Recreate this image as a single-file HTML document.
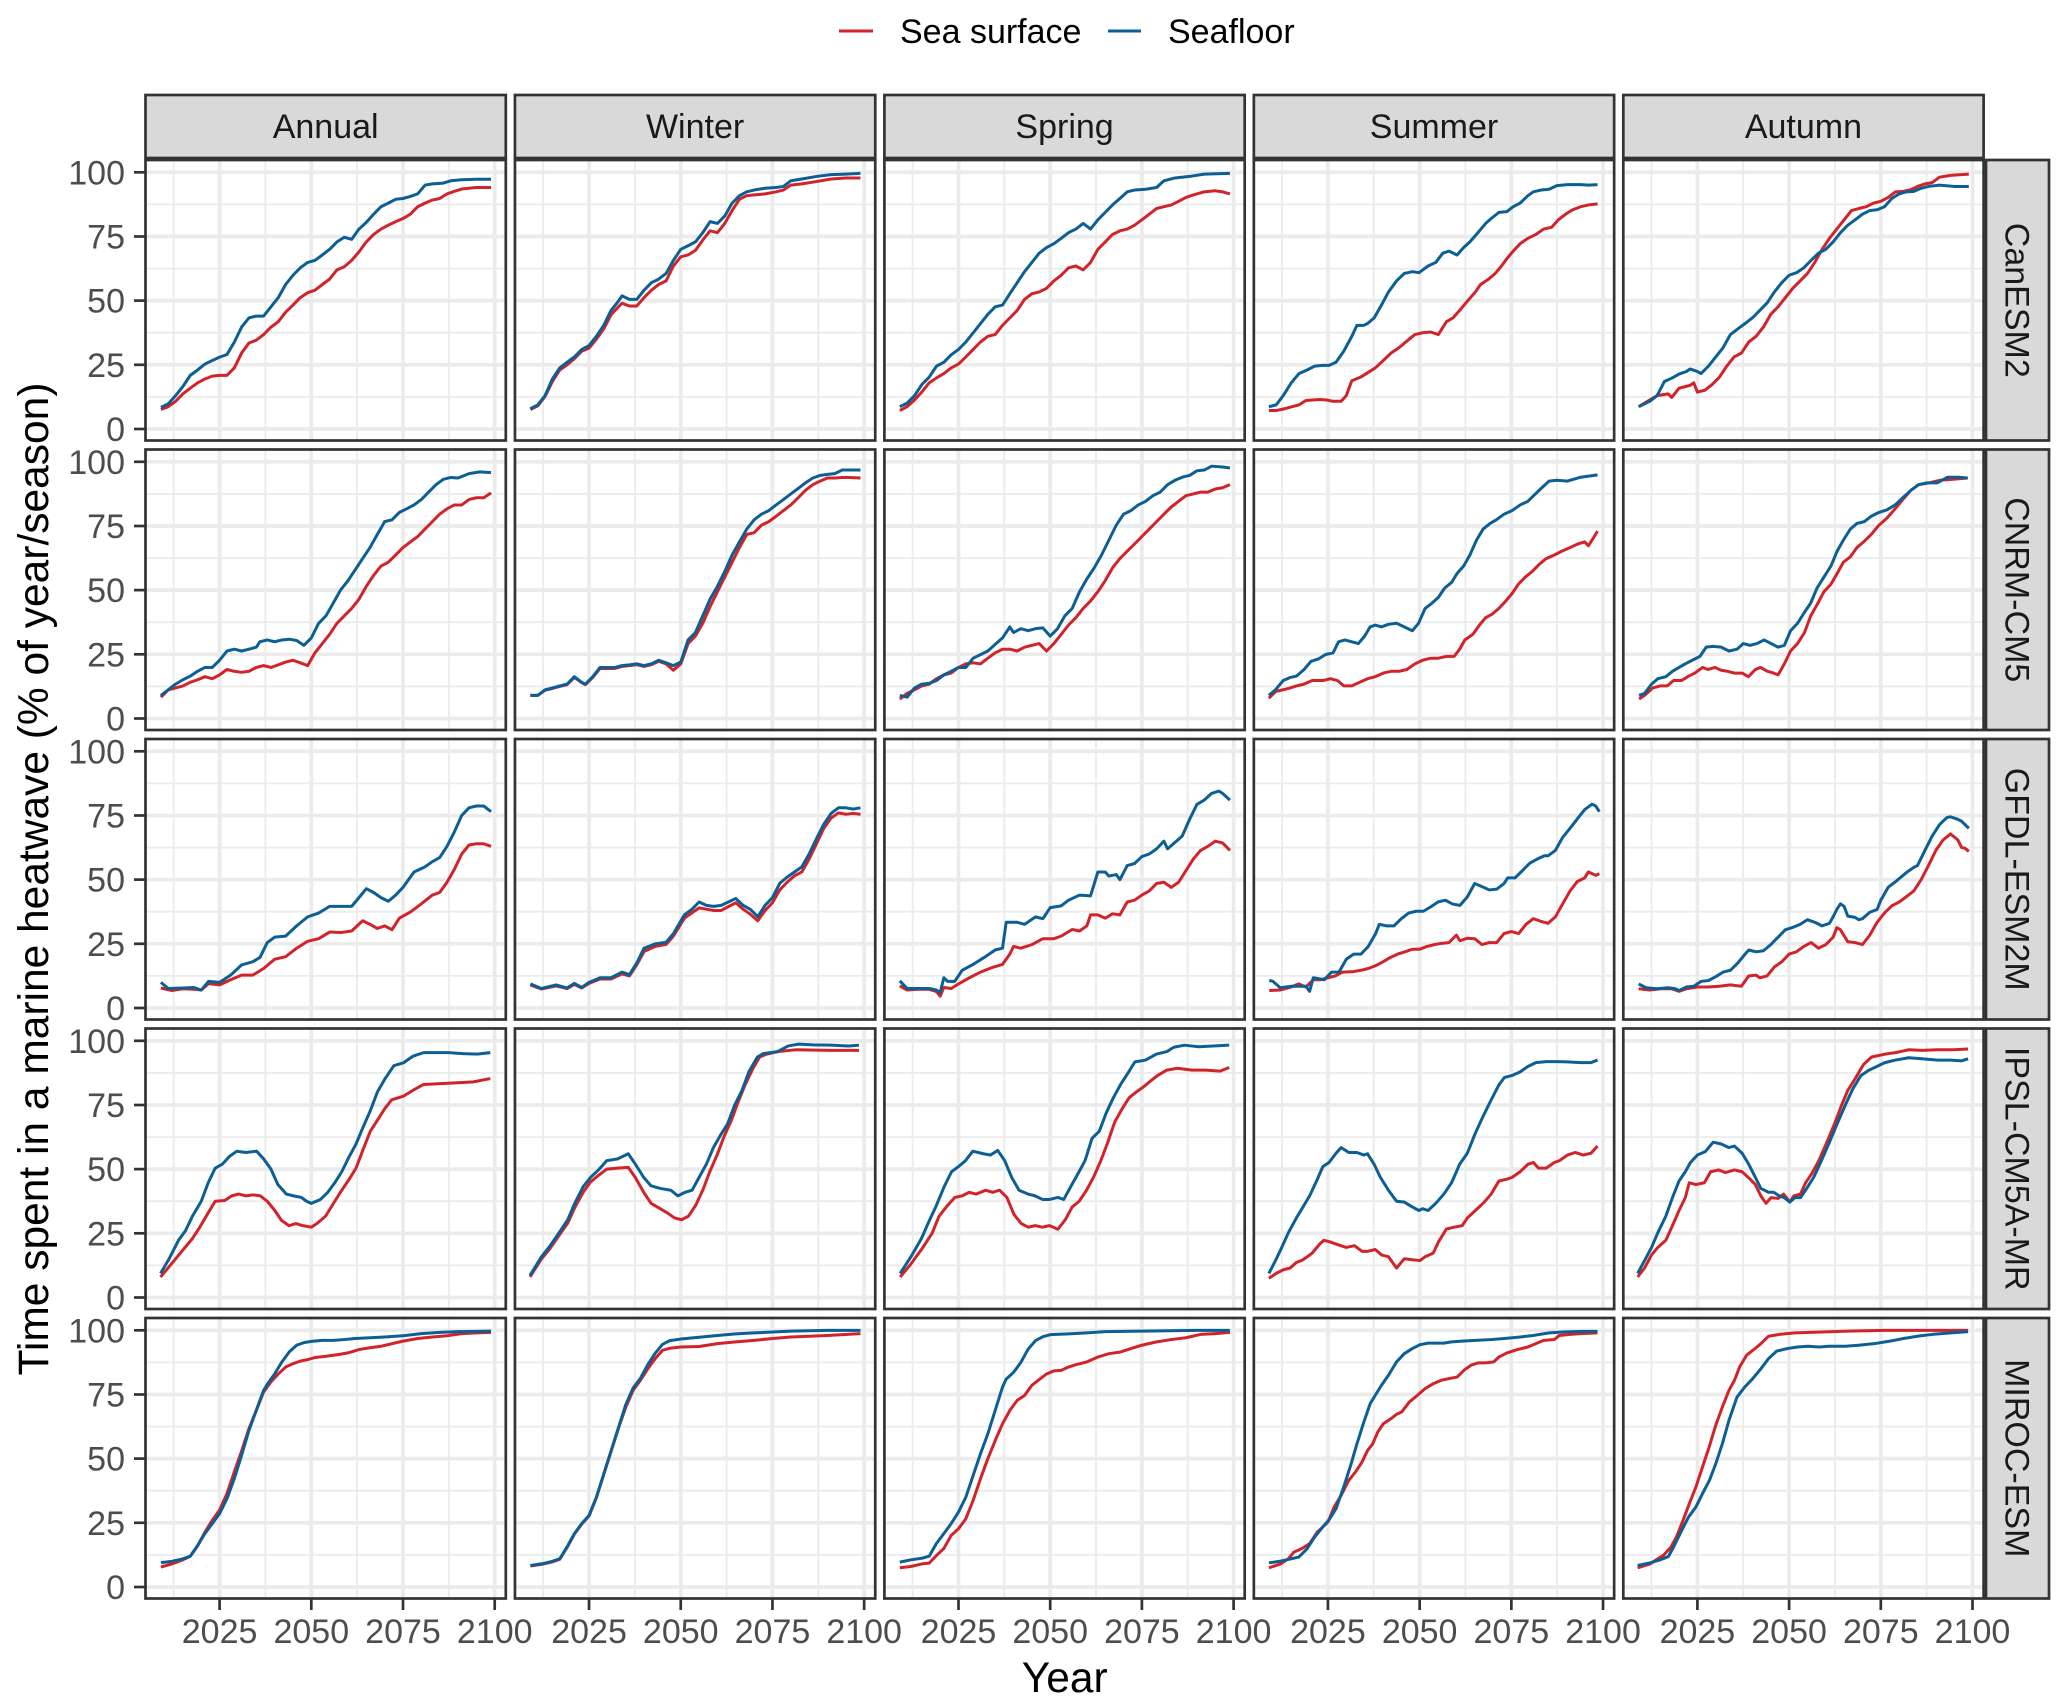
<!DOCTYPE html>
<html><head><meta charset="utf-8"><style>
html,body{margin:0;padding:0;background:#fff}
svg{display:block;font-family:"Liberation Sans",Arial,sans-serif}
polyline{fill:none;stroke-width:3;vector-effect:non-scaling-stroke;stroke-linejoin:round;stroke-linecap:butt}
.r{stroke:#d1232a}.b{stroke:#0b5f94}
.gM{stroke:#ebebeb;stroke-width:3.7}.gm{stroke:#ebebeb;stroke-width:1.8}
.bd{fill:none;stroke:#333;stroke-width:2.7}
.st{fill:#d9d9d9;stroke:#333;stroke-width:2.7}
.sx{font-size:34px;fill:#1a1a1a;text-anchor:middle}
.ty{font-size:34px;fill:#4d4d4d;text-anchor:end}
.tx{font-size:34px;fill:#4d4d4d;text-anchor:middle}
.tk{stroke:#333;stroke-width:2.7}
</style></head><body>
<svg width="2067" height="1708" viewBox="0 0 2067 1708" xmlns="http://www.w3.org/2000/svg">
<defs>
<g id="grid">
<rect x="0" y="0" width="360.3" height="280.5" fill="#fff"/>
<line class="gm" x1="0" x2="360.3" y1="44.4" y2="44.4"/><line class="gm" x1="0" x2="360.3" y1="108.6" y2="108.6"/><line class="gm" x1="0" x2="360.3" y1="172.7" y2="172.7"/><line class="gm" x1="0" x2="360.3" y1="236.9" y2="236.9"/>
<line class="gm" y1="0" y2="280.5" x1="28.2" x2="28.2"/><line class="gm" y1="0" y2="280.5" x1="119.9" x2="119.9"/><line class="gm" y1="0" y2="280.5" x1="211.6" x2="211.6"/><line class="gm" y1="0" y2="280.5" x1="303.3" x2="303.3"/>
<line class="gM" x1="0" x2="360.3" y1="12.3" y2="12.3"/><line class="gM" x1="0" x2="360.3" y1="76.5" y2="76.5"/><line class="gM" x1="0" x2="360.3" y1="140.6" y2="140.6"/><line class="gM" x1="0" x2="360.3" y1="204.8" y2="204.8"/><line class="gM" x1="0" x2="360.3" y1="269" y2="269"/>
<line class="gM" y1="0" y2="280.5" x1="74.1" x2="74.1"/><line class="gM" y1="0" y2="280.5" x1="165.8" x2="165.8"/><line class="gM" y1="0" y2="280.5" x1="257.5" x2="257.5"/><line class="gM" y1="0" y2="280.5" x1="349.2" x2="349.2"/>
</g>
<g id="yt">
<line class="tk" x1="134" x2="145.5" y1="12.3" y2="12.3"/><line class="tk" x1="134" x2="145.5" y1="76.5" y2="76.5"/><line class="tk" x1="134" x2="145.5" y1="140.6" y2="140.6"/><line class="tk" x1="134" x2="145.5" y1="204.8" y2="204.8"/><line class="tk" x1="134" x2="145.5" y1="269" y2="269"/>
</g>
<g id="xt">
<line class="tk" x1="74.1" x2="74.1" y1="1598.5" y2="1610"/><line class="tk" x1="165.8" x2="165.8" y1="1598.5" y2="1610"/><line class="tk" x1="257.5" x2="257.5" y1="1598.5" y2="1610"/><line class="tk" x1="349.2" x2="349.2" y1="1598.5" y2="1610"/>
</g>
</defs>

<!-- Legend -->
<line x1="839" x2="873" y1="31" y2="31" stroke="#d1232a" stroke-width="3"/>
<text x="900" y="43" font-size="34" fill="#000">Sea surface</text>
<line x1="1108" x2="1141" y1="31" y2="31" stroke="#0b5f94" stroke-width="3"/>
<text x="1168" y="43" font-size="34" fill="#000">Seafloor</text>

<!-- Top strips -->
<rect class="st" x="145.5" y="95" width="360.3" height="63"/><text class="sx" x="325.65" y="138">Annual</text>
<rect class="st" x="514.95" y="95" width="360.3" height="63"/><text class="sx" x="695.1" y="138">Winter</text>
<rect class="st" x="884.4" y="95" width="360.3" height="63"/><text class="sx" x="1064.55" y="138">Spring</text>
<rect class="st" x="1253.85" y="95" width="360.3" height="63"/><text class="sx" x="1434" y="138">Summer</text>
<rect class="st" x="1623.3" y="95" width="360.3" height="63"/><text class="sx" x="1803.45" y="138">Autumn</text>

<!-- Right strips -->
<rect class="st" x="1986" y="160" width="63" height="280.5"/><text class="sx" transform="translate(2005.5,300.25) rotate(90)">CanESM2</text>
<rect class="st" x="1986" y="449.5" width="63" height="280.5"/><text class="sx" transform="translate(2005.5,589.75) rotate(90)">CNRM-CM5</text>
<rect class="st" x="1986" y="739" width="63" height="280.5"/><text class="sx" transform="translate(2005.5,879.25) rotate(90)">GFDL-ESM2M</text>
<rect class="st" x="1986" y="1028.5" width="63" height="280.5"/><text class="sx" transform="translate(2005.5,1168.75) rotate(90)">IPSL-CM5A-MR</text>
<rect class="st" x="1986" y="1318" width="63" height="280.5"/><text class="sx" transform="translate(2005.5,1458.25) rotate(90)">MIROC-ESM</text>

<!-- Y ticks & labels -->
<g transform="translate(0,160)"><use href="#yt"/><text class="ty" x="125" y="24.3">100</text><text class="ty" x="125" y="88.5">75</text><text class="ty" x="125" y="152.6">50</text><text class="ty" x="125" y="216.8">25</text><text class="ty" x="125" y="281">0</text></g>
<g transform="translate(0,449.5)"><use href="#yt"/><text class="ty" x="125" y="24.3">100</text><text class="ty" x="125" y="88.5">75</text><text class="ty" x="125" y="152.6">50</text><text class="ty" x="125" y="216.8">25</text><text class="ty" x="125" y="281">0</text></g>
<g transform="translate(0,739)"><use href="#yt"/><text class="ty" x="125" y="24.3">100</text><text class="ty" x="125" y="88.5">75</text><text class="ty" x="125" y="152.6">50</text><text class="ty" x="125" y="216.8">25</text><text class="ty" x="125" y="281">0</text></g>
<g transform="translate(0,1028.5)"><use href="#yt"/><text class="ty" x="125" y="24.3">100</text><text class="ty" x="125" y="88.5">75</text><text class="ty" x="125" y="152.6">50</text><text class="ty" x="125" y="216.8">25</text><text class="ty" x="125" y="281">0</text></g>
<g transform="translate(0,1318)"><use href="#yt"/><text class="ty" x="125" y="24.3">100</text><text class="ty" x="125" y="88.5">75</text><text class="ty" x="125" y="152.6">50</text><text class="ty" x="125" y="216.8">25</text><text class="ty" x="125" y="281">0</text></g>

<!-- X ticks & labels -->
<g transform="translate(145.5,0)"><use href="#xt"/><text class="tx" x="74.1" y="1643">2025</text><text class="tx" x="165.8" y="1643">2050</text><text class="tx" x="257.5" y="1643">2075</text><text class="tx" x="349.2" y="1643">2100</text></g>
<g transform="translate(514.95,0)"><use href="#xt"/><text class="tx" x="74.1" y="1643">2025</text><text class="tx" x="165.8" y="1643">2050</text><text class="tx" x="257.5" y="1643">2075</text><text class="tx" x="349.2" y="1643">2100</text></g>
<g transform="translate(884.4,0)"><use href="#xt"/><text class="tx" x="74.1" y="1643">2025</text><text class="tx" x="165.8" y="1643">2050</text><text class="tx" x="257.5" y="1643">2075</text><text class="tx" x="349.2" y="1643">2100</text></g>
<g transform="translate(1253.85,0)"><use href="#xt"/><text class="tx" x="74.1" y="1643">2025</text><text class="tx" x="165.8" y="1643">2050</text><text class="tx" x="257.5" y="1643">2075</text><text class="tx" x="349.2" y="1643">2100</text></g>
<g transform="translate(1623.3,0)"><use href="#xt"/><text class="tx" x="74.1" y="1643">2025</text><text class="tx" x="165.8" y="1643">2050</text><text class="tx" x="257.5" y="1643">2075</text><text class="tx" x="349.2" y="1643">2100</text></g>

<!-- Axis titles -->
<text x="1064.7" y="1692" font-size="42.5" fill="#000" text-anchor="middle">Year</text>
<text transform="translate(48,879) rotate(-90)" font-size="42.5" fill="#000" text-anchor="middle">Time spent in a marine heatwave (% of year/season)</text>

<!-- ===== Row 1: CanESM2 ===== -->
<g transform="translate(145.5,160)"><use href="#grid"/><g transform="scale(3.668,-2.567) translate(-2004.8,-104.8)">
<polyline class="r" points="2009,7.6 2011,8.7 2013,10.8 2015,13.7 2017,15.9 2019,18 2021,19.5 2023,20.6 2025,20.9 2027,20.9 2029,23.8 2031,29.6 2033,33.5 2035,34.6 2037,36.8 2039,39.7 2041,41.8 2043,45.5 2045,48.3 2047,51.2 2049,53.1 2051,54.1 2053,56.3 2055,58.4 2057,62 2059,63.2 2061,65.7 2063,69 2065,72.9 2067,75.8 2069,77.9 2071,79.4 2073,80.8 2075,82 2077,83.7 2079,86.6 2081,88 2083,89.2 2085,89.8 2087,91.6 2089,92.6 2091,93.5 2095,94.1 2099,94.1"/>
<polyline class="b" points="2009,8.4 2011,9.8 2013,13 2015,16.6 2017,20.9 2019,23 2021,25.3 2023,26.7 2025,28 2027,29 2029,33.8 2031,39.7 2033,43.3 2035,44 2037,44 2039,47.6 2041,51.2 2043,56.3 2045,59.9 2047,62.8 2049,64.9 2051,65.7 2053,67.8 2055,70 2057,72.9 2059,74.7 2061,73.9 2063,77.9 2065,80.5 2067,83.7 2069,86.6 2071,88 2073,89.5 2075,89.8 2077,90.6 2079,91.6 2081,95 2083,95.5 2086,95.8 2088,96.7 2091,97.1 2095,97.3 2099,97.3"/>
</g><rect class="bd" x="0" y="0" width="360.3" height="280.5"/></g>

<g transform="translate(514.95,160)"><use href="#grid"/><g transform="scale(3.668,-2.567) translate(-2004.8,-104.8)">
<polyline class="r" points="2009,7.6 2011,9 2013,12.7 2015,18.5 2017,23 2019,25 2021,27.4 2023,30.3 2025,31.5 2027,35 2029,39 2031,44.5 2033,47.6 2034,49 2036,47.9 2038,47.9 2040,51.2 2042,54.1 2044,56.3 2046,57.7 2048,63.5 2050,67.1 2052,67.8 2054,69.6 2056,73.6 2058,77.2 2060,76.5 2062,80.1 2064,85.1 2066,89.5 2068,90.9 2070,91.2 2073,91.6 2076,92.4 2078,93.1 2080,95 2083,95.5 2087,96.4 2091,97.4 2095,97.8 2099,97.8"/>
<polyline class="b" points="2009,7.9 2011,9.4 2013,13 2015,19.5 2017,23.8 2019,26 2021,28.1 2023,31 2025,32.5 2027,36.1 2029,40.4 2031,46.2 2033,49.8 2034,51.9 2036,50.5 2038,50.5 2040,54.1 2042,57 2044,58.4 2046,60.6 2048,65.7 2050,70 2052,71.4 2054,72.9 2056,76.5 2058,80.8 2060,80.1 2062,83 2064,88 2066,90.9 2068,92.4 2070,93.1 2073,93.8 2076,94.1 2078,94.5 2080,96.7 2083,97.4 2087,98.4 2091,99.1 2095,99.3 2099,99.6"/>
</g><rect class="bd" x="0" y="0" width="360.3" height="280.5"/></g>

<g transform="translate(884.4,160)"><use href="#grid"/><g transform="scale(3.668,-2.567) translate(-2004.8,-104.8)">
<polyline class="r" points="2009,7.2 2011,8.7 2013,11.3 2015,14.4 2017,18 2019,19.9 2021,21.6 2023,23.8 2025,25.3 2027,28.1 2029,31 2031,33.9 2033,36.1 2035,36.8 2037,40.4 2039,43.3 2041,46.2 2043,50.5 2045,52.7 2047,53.4 2049,54.8 2051,57.7 2053,59.9 2055,62.8 2057,63.5 2059,62 2061,64.9 2063,70 2065,72.9 2067,75.8 2069,77.2 2071,77.9 2073,79.4 2075,81.5 2077,83.7 2079,85.9 2081,86.6 2083,87.3 2085,88.7 2087,90.2 2089,91.2 2092,92.4 2095,92.8 2097,92.4 2099,91.6"/>
<polyline class="b" points="2009,8.7 2011,10.1 2013,13 2015,17.3 2017,20.2 2019,24.5 2021,26 2023,28.9 2025,31 2027,33.9 2029,37.5 2031,41.1 2033,44.7 2035,47.6 2037,48.3 2039,52.7 2041,57 2043,61.3 2045,64.9 2047,68.5 2049,70.7 2051,72.2 2053,74.3 2055,76.5 2057,77.9 2059,80.1 2061,77.9 2063,81.5 2065,84.4 2067,87.3 2069,89.8 2071,92.4 2073,93.1 2076,93.4 2079,94.1 2081,96.7 2084,97.8 2088,98.4 2092,99.3 2099,99.6"/>
</g><rect class="bd" x="0" y="0" width="360.3" height="280.5"/></g>

<g transform="translate(1253.85,160)"><use href="#grid"/><g transform="scale(3.668,-2.567) translate(-2004.8,-104.8)">
<polyline class="r" points="2008.9,7.2 2010.9,7.2 2013.2,7.9 2015.2,8.7 2017.1,9.4 2019,11.1 2020.7,11.3 2022.8,11.5 2024.7,11.3 2026.4,10.8 2028.6,10.8 2030,13 2031.5,18.8 2033.9,20.2 2035.8,21.9 2037.9,23.8 2040.1,26.7 2042.2,29.6 2044.4,31.7 2046.8,34.6 2048.7,36.8 2050.8,37.5 2053,37.8 2055.1,36.8 2057.3,41.8 2059.1,43.3 2060.9,46.2 2063,49.8 2065.2,53.4 2066.6,56.3 2068.8,58.4 2070.6,60.6 2072.3,63.5 2073.8,66.4 2075.5,69.3 2077.4,72.2 2079.5,74.3 2081.7,75.8 2083.8,77.9 2086,78.6 2087.8,81.5 2089.8,83.7 2091.7,85.4 2093.9,86.6 2096,87.3 2098.5,87.7"/>
<polyline class="b" points="2008.9,8.7 2010.9,9.4 2012.8,13 2015,18 2017.1,21.6 2019.3,23 2021.4,24.5 2023.6,24.8 2025.3,24.8 2027.2,26 2029.3,30.3 2031.5,36.1 2032.9,40.4 2034.8,40.4 2035.8,41.1 2037.6,43.3 2039.6,48.3 2041.5,53.4 2043.7,57.7 2045.8,60.6 2048,61.3 2049.8,60.9 2052.3,63.5 2054.4,64.9 2056.3,68.5 2058,69.3 2060.2,67.8 2062,70.7 2063.7,72.9 2065.9,76.5 2068,80.1 2069.5,82 2071.6,84.4 2073.8,84.7 2075.5,86.6 2077.4,88 2079.5,90.9 2081,92.4 2083.1,93.1 2085.3,93.4 2087.4,94.8 2090.3,95.2 2093.9,95.2 2096,95 2098.5,95.2"/>
</g><rect class="bd" x="0" y="0" width="360.3" height="280.5"/></g>

<g transform="translate(1623.3,160)"><use href="#grid"/><g transform="scale(3.668,-2.567) translate(-2004.8,-104.8)">
<polyline class="r" points="2009,8.7 2014,13 2017,13.7 2018,12.3 2020,15.9 2023,17 2024,18 2025,14.4 2027,15.1 2029,17.3 2031,20.2 2033,24.5 2035,28.1 2037,29.6 2039,33.9 2041,36.1 2043,39.7 2045,44.7 2047,47.6 2049,51.2 2051,54.8 2053,57.7 2055,60.6 2057,64.9 2059,70 2061,74.3 2063,77.9 2065,81.5 2067,85.1 2069,85.9 2071,86.6 2073,88 2075,88.7 2077,90.2 2079,92.4 2081,92.6 2083,93.1 2085,94.5 2087,95.5 2089,96 2091,98.1 2094,98.8 2099,99.3"/>
<polyline class="b" points="2009,8.7 2012,10.8 2014,13 2016,18.5 2018,19.8 2020,21.4 2022,22.4 2023,23.4 2025,22.4 2026,21.6 2028,24.5 2030,28.1 2032,31.7 2034,36.8 2036,39 2038,41.1 2040,43.3 2042,46.2 2044,49.1 2046,53.4 2048,57 2050,59.9 2052,60.9 2054,62.8 2056,65.7 2058,68.5 2060,70 2062,72.9 2064,76.5 2066,79.4 2068,81.5 2070,83.7 2072,85.1 2074,85.4 2076,86.6 2078,89.8 2080,91.6 2082,92.4 2084,92.6 2086,93.8 2088,94.5 2091,95 2095,94.5 2099,94.5"/>
</g><rect class="bd" x="0" y="0" width="360.3" height="280.5"/></g>

<!-- ===== Row 2: CNRM-CM5 ===== -->
<g transform="translate(145.5,449.5)"><use href="#grid"/><g transform="scale(3.668,-2.567) translate(-2004.8,-104.8)">
<polyline class="r" points="2009,8.3 2011,11.2 2013,11.9 2015,12.7 2017,14.1 2019,15.1 2021,16.3 2023,15.5 2025,17 2027,19.1 2029,18.4 2031,18 2033,18.4 2035,19.9 2037,20.6 2039,19.9 2041,20.9 2043,22 2045,22.7 2047,21.7 2049,20.6 2051,25.6 2053,29.2 2055,32.8 2057,37.1 2059,40 2061,42.9 2063,46.5 2065,51.5 2067,55.8 2069,59.4 2071,60.9 2073,63.7 2075,66.6 2077,68.8 2079,70.9 2081,73.8 2083,76.7 2085,79.6 2087,81.7 2089,83.2 2091,83.2 2093,85.3 2095,86 2097,86 2099,87.9"/>
<polyline class="b" points="2009,9 2011,11.2 2013,13.4 2015,15.1 2017,16.5 2019,18.4 2021,19.9 2023,19.9 2025,22.7 2027,26.3 2029,27 2031,26.3 2033,27 2035,27.8 2036,29.9 2038,30.6 2040,29.9 2042,30.6 2044,30.9 2046,30.4 2048,28.5 2050,31.4 2052,37.1 2054,40 2056,45 2058,50.1 2060,53.7 2062,58 2064,62.3 2066,66.6 2068,71.7 2070,76.7 2072,77.4 2074,80.3 2076,81.7 2078,83.2 2080,85.3 2082,88.2 2084,91.1 2086,93.2 2088,93.9 2090,93.7 2093,95.4 2096,96.1 2099,95.8"/>
</g><rect class="bd" x="0" y="0" width="360.3" height="280.5"/></g>

<g transform="translate(514.95,449.5)"><use href="#grid"/><g transform="scale(3.668,-2.567) translate(-2004.8,-104.8)">
<polyline class="r" points="2009,9 2011,9 2013,11 2015,11.7 2017,12.5 2019,13.2 2021,16 2023,14 2024,13.2 2026,16 2028,19.5 2030,19.5 2032,19.5 2034,20.3 2036,20.6 2038,21 2040,20.3 2042,21 2044,22.3 2046,21.3 2048,18.8 2050,21.3 2052,29.2 2054,32.1 2056,37.1 2058,43.6 2060,49.4 2062,55.1 2064,60.9 2066,66.6 2068,71.7 2070,72.4 2072,75.3 2074,76.7 2076,78.8 2078,81 2080,83.2 2082,86 2084,88.9 2086,91.1 2088,92.5 2090,93.7 2092,93.7 2094,93.9 2096,93.9 2099,93.7"/>
<polyline class="b" points="2009,9 2011,9 2013,11.2 2015,11.9 2017,12.7 2019,13.4 2021,16.3 2023,14.1 2024,13.4 2026,16.3 2028,19.9 2030,19.9 2032,19.9 2034,20.6 2036,20.9 2038,21.3 2040,20.6 2042,21.3 2044,22.7 2046,21.7 2048,20.6 2050,22 2052,30.6 2054,33.5 2056,40 2058,46.5 2060,51.5 2062,57.3 2064,63.7 2066,68.8 2068,73.8 2070,77.4 2072,79.6 2074,81 2076,83.2 2078,85.3 2080,87.5 2082,89.6 2084,91.8 2086,93.7 2088,94.7 2090,95.1 2092,95.4 2094,96.8 2099,96.8"/>
</g><rect class="bd" x="0" y="0" width="360.3" height="280.5"/></g>

<g transform="translate(884.4,449.5)"><use href="#grid"/><g transform="scale(3.668,-2.567) translate(-2004.8,-104.8)">
<polyline class="r" points="2009,7.6 2011,9.8 2013,11.2 2015,12.7 2017,13.4 2019,15.5 2021,17 2023,17.7 2025,19.9 2027,21.3 2029,21.7 2031,21.3 2033,23.5 2035,25.6 2037,27 2039,27 2041,26.3 2043,27.8 2045,28.5 2047,29.2 2049,26.3 2051,29.2 2053,32.8 2055,36.4 2057,39.3 2059,42.9 2061,45.8 2063,49.4 2065,53.7 2067,58.7 2069,62.3 2071,65.2 2073,68 2075,70.9 2077,73.8 2079,76.7 2081,79.6 2083,82.4 2085,84.6 2087,86.8 2089,87.5 2091,88.2 2093,88.2 2095,89.4 2097,89.9 2099,91.1"/>
<polyline class="b" points="2009,9 2011,8.3 2013,11.9 2015,13.4 2017,13.7 2019,14.8 2021,17 2023,18.4 2025,19.9 2027,19.9 2029,23.5 2031,24.9 2033,26.3 2035,28.9 2037,31.4 2039,35.7 2040,33.5 2042,35 2044,34.2 2046,35 2048,35.3 2050,32.1 2052,35 2054,40 2056,42.9 2058,49.4 2060,54.4 2062,58.7 2064,63.7 2066,69.5 2068,75.3 2070,79.6 2072,81 2074,83.2 2076,84.6 2078,86.8 2080,88.2 2082,91.1 2084,92.8 2086,94 2088,94.7 2090,96.5 2092,96.8 2094,98.3 2097,98 2099,97.6"/>
</g><rect class="bd" x="0" y="0" width="360.3" height="280.5"/></g>

<g transform="translate(1253.85,449.5)"><use href="#grid"/><g transform="scale(3.668,-2.567) translate(-2004.8,-104.8)">
<polyline class="r" points="2008.9,7.9 2010.7,10.5 2012.8,11.2 2014.7,11.9 2016.4,12.7 2018.5,13.4 2020.7,14.8 2023.6,14.8 2025.7,15.5 2027.6,14.8 2029.3,12.7 2031.5,12.7 2033.6,14.1 2035.8,15.5 2037.9,16.3 2040.1,17.7 2042.2,18.4 2044.4,18.4 2046.5,19.1 2048.7,21.3 2050.8,22.7 2053,23.5 2055.1,23.5 2057.3,24.2 2059.4,24.2 2060.9,27 2062.3,30.6 2064.5,32.8 2066.3,36.4 2068,39.3 2069.8,40.7 2071.6,42.9 2073.5,45.8 2075.2,48.7 2076.9,52.3 2078.8,55.1 2080.7,57.3 2082.7,60.2 2084.5,62.3 2086.7,63.7 2088.8,65.2 2091,66.6 2093.1,68 2095,68.8 2096,67.3 2097,69.5 2098.5,73"/>
<polyline class="b" points="2008.9,9 2010.7,11.2 2012.8,14.8 2014.7,16 2016.4,16.5 2018.5,19.1 2020.4,22.3 2022.4,23.2 2024.3,24.9 2026.4,25.6 2027.9,29.9 2029.6,30.6 2031.5,29.9 2033.3,29.2 2035,32.1 2036.5,35.7 2037.9,36.4 2039.6,35.7 2041.5,36.7 2043.7,37.1 2045.8,35.7 2048,34.2 2049.7,37.1 2051.5,42.9 2053.4,45 2055.1,47.2 2056.8,50.8 2058.7,53 2060.2,56.5 2062,59.4 2063.7,63.7 2065.5,69.5 2067.3,73.8 2069.2,76 2070.9,77.4 2073,79.6 2075.2,81 2077.4,83.2 2079.5,84.6 2081.2,87 2083.1,89.6 2085.3,92.5 2087.4,92.8 2090.3,92.5 2093.9,94 2098.5,94.9"/>
</g><rect class="bd" x="0" y="0" width="360.3" height="280.5"/></g>

<g transform="translate(1623.3,449.5)"><use href="#grid"/><g transform="scale(3.668,-2.567) translate(-2004.8,-104.8)">
<polyline class="r" points="2009.1,7.6 2010.6,9 2012.8,11.9 2014.9,12.7 2016.8,12.7 2018.5,14.8 2020.7,14.8 2022.6,16.5 2024.3,17.7 2026.4,19.9 2027.9,19.1 2029.8,19.9 2031.5,18.8 2033.2,18.4 2035.1,17.7 2037.2,17.7 2038.9,16.3 2040.8,19.1 2042.2,19.9 2044.1,18.4 2045.8,17.7 2047,17 2048.7,21.3 2050.4,26.3 2052.3,29.2 2054.2,33.5 2055.9,40 2057.6,44.3 2059.5,49.4 2061.4,52.3 2063.1,56.5 2064.8,60.9 2066.7,63 2068.5,66.6 2070.3,68.8 2072.4,71.7 2074.5,75.3 2076.7,78.1 2078.9,81.7 2081,85.3 2083.2,88.9 2085.3,91.1 2088.2,91.8 2091.1,92.8 2094.7,93.2 2098.7,93.7"/>
<polyline class="b" points="2009.1,9 2010.6,9.8 2012.5,13.4 2014.2,15.5 2016.4,16.3 2018.2,18.4 2020,19.9 2021.7,21.3 2023.6,22.7 2025.7,24.2 2027.4,27.8 2029.3,28.1 2031.5,27.8 2033.6,26.3 2035.8,27 2037.5,29.2 2039.4,28.5 2041.2,29.2 2043.2,30.6 2045.1,29.2 2047,27.8 2048.7,28.5 2050.4,34.2 2052.3,37.1 2054.2,41.4 2055.9,45 2057.6,50.8 2059.5,55.1 2061.4,59.4 2063.1,65.2 2064.8,69.5 2066.7,73.8 2068.5,76 2070.5,76.7 2072.4,78.8 2074.5,80.3 2076.7,81.3 2078.9,83.2 2081,86 2083.2,88.9 2085.3,91.1 2087.5,91.8 2090.4,91.8 2093.2,94 2096.1,94 2098.7,93.7"/>
</g><rect class="bd" x="0" y="0" width="360.3" height="280.5"/></g>

<!-- ===== Row 3: GFDL-ESM2M ===== -->
<g transform="translate(145.5,739)"><use href="#grid"/><g transform="scale(3.668,-2.567) translate(-2004.8,-104.8)">
<polyline class="r" points="2009,7.8 2012,6.8 2015,7.5 2018,7.3 2020,7 2022,9.5 2025,9 2028,11 2031,12.8 2034,12.8 2037,15.4 2040,19 2043,20 2046,23.3 2049,26 2052,27 2055,29.6 2058,29.4 2061,30 2064,34 2066,32.6 2068,31 2070,32 2072,30.5 2074,35 2077,37.4 2080,40.6 2083,44 2085,45 2087,49 2089,54 2091,60 2093,63.5 2095,64 2097,64 2099,63"/>
<polyline class="b" points="2009,10 2011,7.6 2015,7.8 2018,8 2020,7 2022,10.4 2025,10 2028,12.8 2031,16.8 2034,18 2036,19.7 2038,25.5 2040,27.6 2043,28 2046,32 2049,35.5 2052,37 2055,39.6 2058,39.6 2061,39.6 2063,43 2065,46.5 2067,45 2069,43 2071,41.6 2073,44 2075,47 2078,53 2081,55 2083,57 2085,58.6 2087,63 2089,68.6 2091,75 2093,78 2095,78.7 2097,78.7 2099,76.5"/>
</g><rect class="bd" x="0" y="0" width="360.3" height="280.5"/></g>

<g transform="translate(514.95,739)"><use href="#grid"/><g transform="scale(3.668,-2.567) translate(-2004.8,-104.8)">
<polyline class="r" points="2009,9 2012,7.4 2016,8.6 2019,7.6 2021,9.2 2023,7.8 2025,9.6 2028,11.3 2031,11.3 2034,13.3 2036,12.5 2038,16.8 2040,22 2043,24 2046,24.8 2048,28 2051,35 2053,37 2055,39 2057,38.5 2059,38 2061,38 2063,39.5 2065,41 2067,38.5 2069,36.5 2071,34 2073,38 2075,41 2077,46 2079,49 2081,51.5 2083,53 2085,58 2087,64 2089,70 2091,74 2093,76 2095,75.5 2097,75.8 2099,75.5"/>
<polyline class="b" points="2009,9.4 2012,7.6 2016,9 2019,7.8 2021,9.6 2023,8 2025,10 2028,11.8 2031,11.8 2034,14 2036,13 2038,17.5 2040,23.3 2043,25 2046,25.6 2048,29 2051,36.3 2053,38.4 2055,41.3 2057,40 2059,39.6 2061,40 2063,41.3 2065,42.7 2067,40 2069,38.4 2071,35.6 2073,40 2075,43 2077,48.6 2079,51 2081,53 2083,55 2085,60 2087,66 2089,71.6 2091,75.8 2093,78 2095,78 2097,77.5 2099,78"/>
</g><rect class="bd" x="0" y="0" width="360.3" height="280.5"/></g>

<g transform="translate(884.4,739)"><use href="#grid"/><g transform="scale(3.668,-2.567) translate(-2004.8,-104.8)">
<polyline class="r" points="2009,8.6 2011,7 2014,7.3 2017,7.3 2019,6.4 2020,4.6 2021,8 2023,7.6 2025,9.4 2028,11.8 2031,14 2034,15.7 2037,17 2039,21 2040,24 2042,23.3 2045,24.7 2048,27 2051,27 2053,28 2056,30.6 2058,30 2060,32 2061,36.3 2063,36.3 2065,35 2067,36.7 2069,36.3 2071,41.3 2073,42 2075,44 2077,45.6 2079,48.5 2081,49 2083,47 2085,49 2087,53.5 2089,58 2091,61.4 2093,63 2095,65 2097,64.3 2099,61.4"/>
<polyline class="b" points="2009,10.6 2011,7.6 2014,7.6 2017,7.6 2019,7 2020,6 2021,11.8 2022,10.4 2024,10.4 2026,14.7 2029,17 2032,19.7 2035,22.6 2037,23.3 2038,33.4 2041,33.4 2043,32.6 2046,35.5 2048,34.8 2050,39.1 2053,39.8 2055,42 2058,44 2061,43.7 2063,53 2065,53 2066,51.4 2068,52 2069,50 2071,55.5 2073,56.3 2075,59 2077,60 2079,62 2081,65 2082,62 2084,64.5 2086,67 2088,73.5 2090,79.3 2092,81 2094,83.6 2096,84.5 2097,83.6 2099,81"/>
</g><rect class="bd" x="0" y="0" width="360.3" height="280.5"/></g>

<g transform="translate(1253.85,739)"><use href="#grid"/><g transform="scale(3.668,-2.567) translate(-2004.8,-104.8)">
<polyline class="r" points="2009,6.8 2012,7 2015,8.2 2017,9.4 2019,8.2 2021,11 2023,11 2025,11.8 2027,12.5 2029,14 2032,14.2 2034,14.7 2036,15.4 2038,16.5 2040,18 2042,19.7 2044,21 2046,21.9 2048,22.9 2050,22.9 2052,24 2054,24.7 2056,25.2 2058,25.5 2060,28.4 2061,26.2 2063,27.2 2065,27 2067,24.7 2069,25.5 2071,25.5 2073,29 2075,29.8 2077,29 2079,32.6 2081,34.8 2083,33.8 2085,33 2087,35.5 2089,40.6 2091,45.6 2093,49.3 2095,50.7 2096,53 2098,51.7 2099,52.3"/>
<polyline class="b" points="2009,10.8 2010,10.4 2012,7.9 2015,8.5 2018,8.5 2019,8.5 2020,6.5 2021,11.8 2024,11 2026,14 2028,14 2030,19 2032,21 2034,21 2036,24 2038,29 2039,32.6 2041,32 2043,32 2045,34.8 2047,37 2049,37.7 2051,37.7 2053,39.4 2055,41.3 2057,42 2059,40.5 2061,40 2063,43.3 2065,48.5 2067,47.3 2069,46 2071,46.3 2073,48.5 2074,50.7 2076,50.7 2078,53.5 2080,56.4 2082,58 2084,59.3 2085,59.3 2087,61.4 2089,66.5 2091,70 2093,73.7 2095,77.3 2097,79.4 2098,78.7 2099,76.5"/>
</g><rect class="bd" x="0" y="0" width="360.3" height="280.5"/></g>

<g transform="translate(1623.3,739)"><use href="#grid"/><g transform="scale(3.668,-2.567) translate(-2004.8,-104.8)">
<polyline class="r" points="2009,7.5 2012,7 2015,7.5 2018,7.5 2020,6.5 2022,7.5 2025,8.2 2028,8.2 2031,8.5 2034,9 2037,8.5 2039,12.5 2041,12.8 2042,11.8 2044,12.5 2046,16 2048,18 2050,21 2052,21.9 2054,24 2056,25.5 2058,23.3 2060,24.7 2062,27.6 2063,31.3 2064,30.5 2066,25.8 2068,25.5 2070,24.7 2072,28.4 2074,33.4 2076,37 2078,39.8 2080,41.3 2082,43.4 2084,45.6 2086,50 2088,55.5 2090,61.4 2092,65.5 2094,67.8 2096,65.5 2097,62.6 2098,62.2 2099,61"/>
<polyline class="b" points="2009,9.4 2011,7.9 2014,7.5 2017,7.9 2019,7.5 2020,6.8 2022,8.2 2024,8.5 2026,10.4 2028,10.7 2030,12.2 2032,14 2034,14.7 2036,17.5 2038,21 2039,22.6 2041,21.9 2043,22.3 2045,24.7 2047,27.6 2049,30.5 2051,31.4 2053,32.6 2055,34.4 2057,33.4 2059,32 2061,33 2062,35.5 2063,38.4 2064,40.6 2065,39.6 2066,35.8 2068,35.3 2069,34.4 2070,34.8 2072,37.3 2074,38.4 2075,42 2077,47 2079,49.2 2081,51.6 2082,52.8 2084,54.8 2085,55.5 2087,61.3 2089,67 2091,71.4 2093,74.2 2094,74.5 2096,73.5 2097,72.8 2099,70"/>
</g><rect class="bd" x="0" y="0" width="360.3" height="280.5"/></g>

<!-- ===== Row 4: IPSL-CM5A-MR ===== -->
<g transform="translate(145.5,1028.5)"><use href="#grid"/><g transform="scale(3.668,-2.567) translate(-2004.8,-104.8)">
<polyline class="r" points="2008.9,8 2011.8,13 2014.7,18 2017.6,23 2019.6,27.4 2021.9,33 2023.8,37.5 2026.4,37.8 2028.3,39.6 2030.2,40.3 2032.2,39.6 2034.1,40 2036.1,39.6 2038,37.5 2040,34 2041.9,30 2043.9,28 2045.8,28.8 2047.7,28 2050,27.4 2051.5,28.8 2053.9,31.7 2056.4,37.5 2058.3,41.8 2060.3,46 2062.2,50.4 2064.1,57.6 2066.1,64.8 2068,69 2070,73.5 2071.9,77 2075.2,78.5 2077.7,80.7 2080.6,83 2084.5,83.3 2089.3,83.6 2094.2,84 2098.8,85.3"/>
<polyline class="b" points="2008.9,9.4 2011.2,15 2013.8,22.3 2015.7,26 2017.6,31.7 2020,37.5 2021.9,44.7 2023.8,50.4 2025.8,52 2027.7,55 2029.7,57 2032.2,56.5 2035.1,57 2037,54 2039,50 2040.9,44 2043.2,40.3 2045.2,39.6 2047.3,39 2048.7,37.5 2050,36.7 2052.5,38.2 2054.5,41 2056.4,44.7 2058.3,49 2060.3,54.8 2062.2,59.8 2064.1,66.3 2066.1,72.8 2068,80 2070,85 2072.5,90.3 2075.2,91.5 2077.7,94 2080.6,95.4 2084.5,95.4 2087.4,95.4 2091.3,95 2095.2,94.8 2098.8,95.4"/>
</g><rect class="bd" x="0" y="0" width="360.3" height="280.5"/></g>

<g transform="translate(514.95,1028.5)"><use href="#grid"/><g transform="scale(3.668,-2.567) translate(-2004.8,-104.8)">
<polyline class="r" points="2008.9,8 2012,15 2014.3,19 2017.2,25 2019.2,29 2021.1,35 2023.4,41 2025.4,45 2027.5,47.5 2029.8,50 2032.8,50.4 2035.7,50.7 2037.6,46.8 2039.9,41 2041.9,36.7 2044.4,34.6 2046.3,33 2048.3,31 2050.2,30.3 2052.1,31.7 2054.1,36 2056,41.8 2057.9,49 2059.9,55.5 2061.8,62.7 2063.8,69 2065.7,76.4 2067.6,83 2069.6,89 2071.5,93.7 2073.4,94.8 2076.4,95.8 2081.2,96.5 2090.9,96.3 2098.6,96.3"/>
<polyline class="b" points="2008.9,8.6 2012,15.8 2014.3,20 2017.2,26 2019.2,30.3 2021.1,36.7 2023.4,43.2 2025.4,46.8 2027.5,49.6 2029.8,53.3 2032.8,54 2035.7,56 2037.6,52 2039.9,46.8 2041.9,43.5 2044.4,42.5 2047.3,41.8 2049.2,39.6 2051.2,41 2053.1,41.8 2055,46.8 2057,52 2058.9,58.4 2060.9,63.4 2062.8,67.7 2064.7,75 2066.7,80.7 2068.6,88 2070.9,93.7 2072.5,95 2076.4,95.8 2079.3,98 2082.2,98.7 2086.1,98.4 2090.9,98.3 2095.7,98 2098.6,98.3"/>
</g><rect class="bd" x="0" y="0" width="360.3" height="280.5"/></g>

<g transform="translate(884.4,1028.5)"><use href="#grid"/><g transform="scale(3.668,-2.567) translate(-2004.8,-104.8)">
<polyline class="r" points="2009.1,8 2012,13 2014.9,18.7 2017.8,25 2019.7,31.7 2022.1,36 2024,39 2026,39.6 2027.9,41 2029.8,40.3 2032.4,41.8 2034.3,41 2036.2,41.8 2038.2,39 2040.1,32.4 2042.1,28.8 2044,27.4 2045.9,28 2047.9,27.4 2049.8,28 2052.1,26.6 2054.1,30.3 2056,35.3 2057.9,37.5 2059.9,41.8 2061.8,46.8 2063.8,53.3 2065.7,60.5 2067.6,68.4 2069.6,73.5 2071.5,77.8 2073.4,80 2075.4,82 2077.3,84.3 2079.3,86.5 2081.8,88.6 2084.7,89.3 2088.6,88.6 2092.4,88.6 2096.3,88.2 2098.8,89.6"/>
<polyline class="b" points="2009.1,9.4 2012,15.8 2014.9,23 2016.9,29.5 2018.8,35.3 2021.1,43.2 2023.1,49 2025,51 2026.9,53.3 2028.9,57 2031.8,56 2033.7,55.5 2035.7,57.3 2037.6,53.3 2039.5,46.8 2041.5,41.8 2044,40.3 2045.9,39.6 2047.9,38.2 2049.8,38.2 2052.1,39 2053.7,38.2 2055.6,43.2 2057.6,48.3 2059.5,53.3 2061.4,62 2063.4,64.8 2065.3,72 2067.2,77.8 2069.2,83 2071.1,87.2 2073.1,91.8 2076,92.5 2078.9,94.8 2081.8,95.8 2083.7,97.5 2086.6,98.3 2090.5,97.7 2094.4,98 2098.8,98.3"/>
</g><rect class="bd" x="0" y="0" width="360.3" height="280.5"/></g>

<g transform="translate(1253.85,1028.5)"><use href="#grid"/><g transform="scale(3.668,-2.567) translate(-2004.8,-104.8)">
<polyline class="r" points="2008.9,7.5 2010.9,9.4 2012.8,10.8 2014.7,11.5 2016.4,13.7 2017.8,14.4 2019.3,15.8 2020.7,17.3 2022.8,20.9 2023.9,22.3 2025.7,21.6 2027.9,20.5 2030,19.5 2032.2,20.2 2034.3,18 2035.8,18 2037.9,18.7 2039.6,16.6 2041.5,15.9 2043.7,11.5 2045.8,15.1 2048,14.7 2050.1,14.4 2051.5,15.9 2053.7,17.3 2055.1,21.6 2057.3,26.7 2059.4,27.4 2061.6,28 2063,31 2065.2,33.9 2067.3,36.7 2069.5,40.3 2071.6,45.4 2073.8,46.1 2075.2,46.8 2077.4,49 2079.5,51.9 2081,52.6 2082.4,50.4 2084.5,50.4 2086.7,52.6 2088.1,53.3 2090.3,55.5 2092.4,56.5 2094.6,55.5 2096.7,56.2 2098.5,59"/>
<polyline class="b" points="2008.9,9.4 2010.7,14.4 2012.4,19.5 2014.2,25.2 2016.4,31 2018.5,36 2020,39.6 2022.1,46 2023.6,51 2025.3,52.6 2027.2,56.2 2028.6,58.4 2030.7,56.5 2032.9,56.5 2034.8,55.5 2035.8,56 2037.6,51.9 2039.3,46.8 2041.5,41.8 2043.7,37.5 2045.8,37.2 2048,35.3 2049.8,33.9 2050.8,34.6 2052.3,33.9 2054.4,36.7 2056.6,40.3 2058.7,44.7 2060.9,51.9 2063,56.2 2065.2,64.1 2067.3,70.6 2069.5,77 2071.6,82.8 2073.1,85.7 2075.2,86.5 2077.4,87.9 2079.5,90 2081.7,91.5 2084.5,91.9 2087.4,91.9 2090.3,91.8 2093.9,91.5 2096.7,91.5 2098.5,92.5"/>
</g><rect class="bd" x="0" y="0" width="360.3" height="280.5"/></g>

<g transform="translate(1623.3,1028.5)"><use href="#grid"/><g transform="scale(3.668,-2.567) translate(-2004.8,-104.8)">
<polyline class="r" points="2008.7,8 2010.6,11.5 2012.5,16.6 2014.2,19.5 2016.4,22.3 2018.2,28 2020,33.9 2021.7,38.9 2022.8,44.7 2024.6,44 2026.9,44.7 2028.6,49 2030.8,49.7 2032.6,48.7 2035.1,49.7 2037.2,49 2039.4,46.1 2040.8,44 2042.3,39.6 2043.7,36.7 2045.1,38.9 2047,38.6 2048.5,40.3 2050.2,37.2 2051.3,39.6 2053.1,40.3 2054.5,44.7 2056.2,48.3 2058.1,53.3 2060.3,60.5 2062.4,67.7 2064.3,74.9 2066,80.7 2068.2,85.7 2070.3,90.8 2072.5,93.7 2076.1,94.8 2079,95.4 2082.6,96.5 2086.2,96.3 2090.5,96.5 2094.8,96.5 2098.8,96.8"/>
<polyline class="b" points="2008.7,9.4 2010.6,14.4 2012.5,19.5 2014.2,25.2 2016.4,31.7 2018.2,38.9 2020,45.4 2021.7,49 2023.1,52.6 2025,55.5 2027.2,56.9 2029.3,60.5 2031.5,59.8 2033.6,58.4 2035.1,59 2037.2,56.2 2039,51.9 2040.8,46.8 2042.3,42.5 2044.4,41 2045.8,41 2047.3,39.6 2048.7,38.9 2050.2,37.2 2051.6,38.9 2053.1,38.9 2054.8,42.5 2056.7,46.8 2058.8,53.3 2061,60.5 2063.1,67.7 2065.3,74.9 2067.4,81.4 2069.6,86.5 2071.8,88.6 2073.9,90 2076.1,91.5 2079,92.5 2082.6,93.4 2086.2,93 2090.5,92.5 2094.1,92.5 2097,92.2 2098.8,93"/>
</g><rect class="bd" x="0" y="0" width="360.3" height="280.5"/></g>

<!-- ===== Row 5: MIROC-ESM ===== -->
<g transform="translate(145.5,1318)"><use href="#grid"/><g transform="scale(3.668,-2.567) translate(-2004.8,-104.8)">
<polyline class="r" points="2009,7.8 2012,9 2015,10.6 2017,12 2019,16 2021,21.4 2023,26 2025,30 2027,36.4 2029,44.8 2031,53 2033,61.7 2035,68.8 2037,76 2039,79.9 2041,83 2043,85.7 2045,87 2047,88 2049,88.6 2051,89.4 2054,89.9 2057,90.5 2060,91.2 2063,92.5 2066,93.2 2069,93.8 2072,94.8 2075,95.8 2079,96.8 2083,97.4 2087,97.9 2091,98.7 2095,99 2099,99.2"/>
<polyline class="b" points="2009,9.5 2012,10 2015,11 2017,12 2019,16.2 2021,20.8 2023,24.7 2025,28.6 2027,34.4 2029,42.2 2031,51.3 2033,61 2035,68.8 2037,76.6 2038,79 2040,83 2042,87.7 2044,91.6 2046,94.2 2048,95.2 2050,95.7 2053,96.1 2056,96.1 2059,96.4 2062,96.8 2066,97.1 2070,97.4 2075,97.9 2080,98.7 2085,99.2 2090,99.5 2095,99.6 2099,99.7"/>
</g><rect class="bd" x="0" y="0" width="360.3" height="280.5"/></g>

<g transform="translate(514.95,1318)"><use href="#grid"/><g transform="scale(3.668,-2.567) translate(-2004.8,-104.8)">
<polyline class="r" points="2009,8.2 2012,8.8 2015,9.8 2017,10.8 2019,15.4 2021,20.6 2023,24.5 2025,27.7 2027,34.8 2029,43.8 2031,52.8 2033,61.8 2035,70 2037,76.6 2039,80.5 2041,85 2043,88.9 2045,92.2 2047,93 2050,93.5 2055,93.7 2060,94.8 2065,95.5 2070,96.1 2075,96.8 2080,97.4 2090,98 2099,98.7"/>
<polyline class="b" points="2009,8.4 2012,9 2015,10 2017,11 2019,15.6 2021,20.8 2023,24.7 2025,27.9 2027,35 2029,44 2031,53 2033,62 2035,71 2037,77.5 2039,81.3 2041,86.6 2043,91 2045,94.5 2047,96 2050,96.6 2055,97.3 2060,98 2065,98.6 2070,99 2080,99.7 2090,100 2099,100"/>
</g><rect class="bd" x="0" y="0" width="360.3" height="280.5"/></g>

<g transform="translate(884.4,1318)"><use href="#grid"/><g transform="scale(3.668,-2.567) translate(-2004.8,-104.8)">
<polyline class="r" points="2009,7.5 2012,8 2015,9 2017,9.3 2019,12.3 2021,15 2023,20.1 2025,22.7 2027,26.6 2029,33.8 2031,42.2 2033,50 2035,57 2037,63.6 2039,68.8 2041,72.7 2043,74.6 2045,78.6 2047,80.8 2049,83 2051,84.2 2053,84.4 2055,85.7 2057,86.6 2060,87.7 2063,89.6 2066,90.9 2069,91.5 2072,92.9 2075,94.2 2079,95.5 2083,96.4 2087,97.1 2091,98.4 2095,98.7 2099,99.2"/>
<polyline class="b" points="2009,9.7 2012,10.6 2015,11.2 2017,12 2019,17 2021,20.8 2023,24.7 2025,29.2 2027,35 2029,43.5 2031,51.9 2033,59.7 2035,68.8 2037,77.9 2038,81 2040,83.6 2042,87.5 2044,92.7 2046,96 2048,97.5 2050,98.3 2055,98.6 2060,99 2065,99.5 2075,99.7 2090,100 2099,100"/>
</g><rect class="bd" x="0" y="0" width="360.3" height="280.5"/></g>

<g transform="translate(1253.85,1318)"><use href="#grid"/><g transform="scale(3.668,-2.567) translate(-2004.8,-104.8)">
<polyline class="r" points="2008.9,7.5 2012.1,9 2014.2,11 2015.7,13.6 2017.8,14.9 2020,16.9 2022.1,21.4 2023.6,23.4 2025,25.3 2026.7,31.2 2028.6,35.7 2030.7,41.6 2032.5,44.8 2034.3,48.7 2035.8,53.2 2037.2,55.8 2038.6,60.4 2040.1,63.6 2042.2,65.6 2043.7,67.3 2045.1,68.2 2047.2,72.1 2049.4,74.7 2051.5,77.3 2053.7,79.2 2055.8,80.5 2058,81.2 2060.2,81.8 2062.3,84.7 2064,86.4 2065.9,87.3 2068,87.3 2070.2,87.7 2071.6,89.6 2073.8,91.2 2076.6,92.5 2079.5,93.5 2081.7,94.8 2083.8,96.1 2086.7,96.4 2088.1,98 2091,98.4 2093.9,98.7 2098.5,99"/>
<polyline class="b" points="2008.9,9.4 2012.1,10.1 2015,11 2017.1,11.7 2019.3,14.9 2021.4,19.5 2023.6,23.4 2025.3,26.2 2027.2,30.5 2029.3,39 2031.2,47.4 2032.9,55.8 2034.8,64.3 2036.5,71.4 2037.9,74.7 2039.6,78.6 2041.5,82.5 2043.7,87.7 2045.8,90.9 2048,92.9 2050.1,94.4 2052.3,95 2054.4,95 2056.6,95 2058.7,95.5 2061.6,95.8 2065.2,96.1 2069.5,96.4 2073.1,96.8 2077.4,97.4 2081,98 2085.3,99 2089.6,99.4 2094.6,99.6 2098.5,99.6"/>
</g><rect class="bd" x="0" y="0" width="360.3" height="280.5"/></g>

<g transform="translate(1623.3,1318)"><use href="#grid"/><g transform="scale(3.668,-2.567) translate(-2004.8,-104.8)">
<polyline class="r" points="2008.7,7.5 2012.1,9 2014.2,11 2015.7,12.3 2017.8,15.6 2019.3,19.5 2021.1,26 2022.8,32.5 2024.6,39 2026.4,46.8 2028.2,54.5 2030,63 2031.8,70.1 2033.6,76.6 2035.1,80.5 2036.5,85.7 2038.4,90.3 2040.1,92.2 2042.3,94.8 2044.4,97.7 2047.3,98.4 2051.6,99 2055.9,99.2 2066,99.7 2076.1,100 2098.8,100"/>
<polyline class="b" points="2008.7,8.4 2012.1,9.4 2014.9,10.6 2017.1,11.9 2018.5,15.6 2020.7,22 2022.6,27.3 2024.6,31.2 2026.4,36.4 2028.3,41.6 2030,48 2031.8,55.8 2033.6,64.9 2035.8,74 2037.9,77.9 2040.1,81.2 2042.3,85 2044.4,89 2046.6,91.9 2049.5,92.9 2052.3,93.5 2055.2,93.8 2058.1,93.5 2061,93.8 2065.3,93.8 2068.9,94.2 2073.2,94.8 2077.5,95.8 2081.1,96.8 2085.4,97.8 2089,98.4 2094.1,99 2098.8,99.5"/>
</g><rect class="bd" x="0" y="0" width="360.3" height="280.5"/></g>

</svg>
</body></html>
